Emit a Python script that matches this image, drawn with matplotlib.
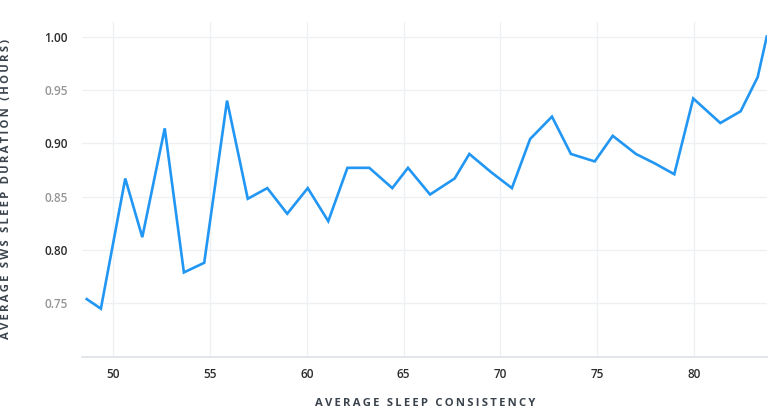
import matplotlib
matplotlib.use("Agg")
import matplotlib.pyplot as plt

# average sleep consistency vs average SWS sleep duration (hours)
consistency = [48.63, 49.36, 50.62, 51.50, 52.66, 53.65, 54.70, 55.88, 56.95, 57.96,
               58.99, 60.05, 61.11, 62.10, 63.23, 64.42, 65.23, 66.37, 67.64, 68.40,
               69.52, 70.60, 71.54, 72.67, 73.65, 74.88, 75.81, 77.01, 78.00, 78.99,
               79.97, 81.37, 82.42, 83.30, 83.77]
sws_hours = [0.754, 0.745, 0.867, 0.812, 0.914, 0.779, 0.788, 0.940, 0.848, 0.858,
             0.834, 0.858, 0.827, 0.877, 0.877, 0.858, 0.877, 0.852, 0.867, 0.890,
             0.873, 0.858, 0.904, 0.925, 0.890, 0.883, 0.907, 0.890, 0.881, 0.871,
             0.942, 0.919, 0.930, 0.962, 1.000]

x_ticks = [50, 55, 60, 65, 70, 75, 80]
y_ticks = [0.75, 0.80, 0.85, 0.90, 0.95, 1.00]


def spaced(s):
    # fake letter-spacing with thin spaces
    return "\u2009".join(s)


plt.rcParams['font.family'] = ['Open Sans', 'DejaVu Sans']

fig = plt.figure(figsize=(7.68, 4.16), dpi=100)
ax = fig.add_axes([0.1064, 0.1425, 0.892, 0.8055])

ax.plot(consistency, sws_hours, color="#2196f3", linewidth=1.9, solid_joinstyle="miter")

ax.set_xlim(48.37, 83.77)
ax.set_ylim(0.70, 1.014)
ax.set_xticks(x_ticks)
ax.set_yticks(y_ticks)
ax.set_xticklabels([str(t) for t in x_ticks], fontsize=8.5, fontweight="semibold", color="#2b2b2b")
ax.set_yticklabels(["%.2f" % t for t in y_ticks], fontsize=8.5, fontweight="semibold")
for lab, t in zip(ax.get_yticklabels(), y_ticks):
    lab.set_color("#2b2b2b" if round(t * 100) % 10 == 0 else "#959595")

ax.tick_params(axis="both", length=0)
ax.tick_params(axis="x", pad=8)
ax.tick_params(axis="y", pad=10)
ax.grid(True, color="#eef0f3", linewidth=1.0)
ax.set_axisbelow(True)
for s in ["top", "right", "left"]:
    ax.spines[s].set_visible(False)
ax.spines["bottom"].set_color("#dde1e6")
ax.spines["bottom"].set_linewidth(1.2)

fig.text(0.553, 0.017, spaced("AVERAGE SLEEP CONSISTENCY"), ha="center", va="bottom",
         fontsize=8.1, fontweight="bold", color="#3a434c")
fig.text(0.009, 0.545, spaced("AVERAGE SWS SLEEP DURATION (HOURS)"), ha="center", va="center",
         rotation=90, fontsize=8.1, fontweight="bold", color="#3a434c")

fig.savefig("out.png", dpi=100)
plt.close(fig)
